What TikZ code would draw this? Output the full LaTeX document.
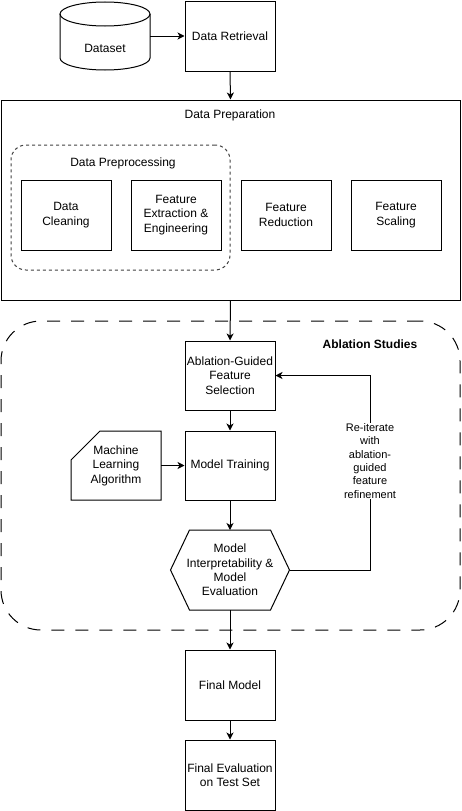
\documentclass[tikz,border=0pt]{standalone}
\usepackage{fontspec}
\setmainfont{Liberation Sans}
\usetikzlibrary{arrows.meta,calc}
\begin{document}
\begin{tikzpicture}[x=1pt,y=-1pt,line width=1pt,
  font=\fontsize{12}{14.4}\selectfont,
  box/.style={draw, minimum width=90pt, minimum height=70pt, align=center, inner sep=1pt},
  ghost/.style={minimum width=90pt, minimum height=70pt, align=center, inner sep=1pt, outer sep=0pt},
  arr/.style={-{Stealth[length=7pt,width=7pt,inset=2pt]}},
  title/.style={inner sep=1pt},
]
\useasboundingbox (0,0) rectangle (461,811);

% Dataset cylinder
\node (dataset) [ghost, minimum height=68pt] at (105,36) {};
\draw (105,14) ellipse [x radius=45pt, y radius=12pt];
\draw (60,14) -- (60,58) arc[start angle=180, end angle=360, x radius=45pt, y radius=12pt] -- (150,14);
\node (dslabel) at (105,48) {Dataset};

\node (retr) [box] at (230,36) {Data Retrieval};
\draw[arr] (dataset.east) -- (retr.west);

% Data Preparation
\node (prep) [draw, minimum width=459pt, minimum height=200pt] at (230.5,200) {};
\node (preptitle) [title] at (230,115) {Data Preparation};
\draw[arr] (retr.south) -- (prep.north);

\node (prepro) [draw=black!75, dash pattern=on 3pt off 3pt, rounded corners=15pt,
  minimum width=219pt, minimum height=125pt] at (120.5,207.5) {};
\node (preprotitle) [title] at (123,163) {Data Preprocessing};

\node (clean) [box] at (66,215) {Data\\Cleaning};
\node (extr) [box] at (176,215) {Feature\\Extraction \&\\Engineering};
\node (red) [box] at (286,215) {Feature\\Reduction};
\node (scal) [box] at (396,215) {Feature\\Scaling};

% Ablation Studies
\node (abl) [draw, dash pattern=on 13pt off 11pt, rounded corners=40pt,
  minimum width=459pt, minimum height=309pt] at (230.5,475.5) {};
\node (abltitle) [title, font=\fontsize{12}{14.4}\selectfont\bfseries] at (370,344) {Ablation Studies};

\node (agfs) [box, minimum height=69pt] at (230,375.5) {Ablation-Guided\\Feature\\Selection};
\draw[arr] (prep.south) -- (agfs.north);

\node (train) [box, minimum height=69pt] at (230,465.5) {Model Training};
\draw[arr] (agfs.south) -- (train.north);

\node (mla) [ghost, minimum height=69pt] at (116,465.5) {Machine\\Learning\\Algorithm};
\draw ($(mla.north west)+(29,0)$) -- (mla.north east) -- (mla.south east)
  -- (mla.south west) -- ($(mla.north west)+(0,29)$) -- cycle;
\draw[arr] (mla.east) -- (train.west);

\node (hex) [ghost, minimum width=119pt, minimum height=80pt] at (230,570)
  {Model\\Interpretability \&\\Model\\Evaluation};
\draw (hex.west) -- ($(hex.north west)+(19,0)$) -- ($(hex.north east)+(-19,0)$)
  -- (hex.east) -- ($(hex.south east)+(-19,0)$) -- ($(hex.south west)+(19,0)$) -- cycle;
\draw[arr] (train.south) -- (hex.north);

\coordinate (fb) at (370,375.5);
\draw[arr] (hex.east) -| (fb) -- (agfs.east);
\node (fblabel) [fill=white, align=center, inner sep=1pt, font=\fontsize{11}{13.3}\selectfont]
  at (370,461) {Re-iterate\\with\\ablation-\\guided\\feature\\refinement};

% Final
\node (final) [box] at (230,685) {Final Model};
\draw[arr] (hex.south) -- (final.north);
\node (fev) [box] at (230,775) {Final Evaluation\\on Test Set};
\draw[arr] (final.south) -- (fev.north);
\end{tikzpicture}
\end{document}
